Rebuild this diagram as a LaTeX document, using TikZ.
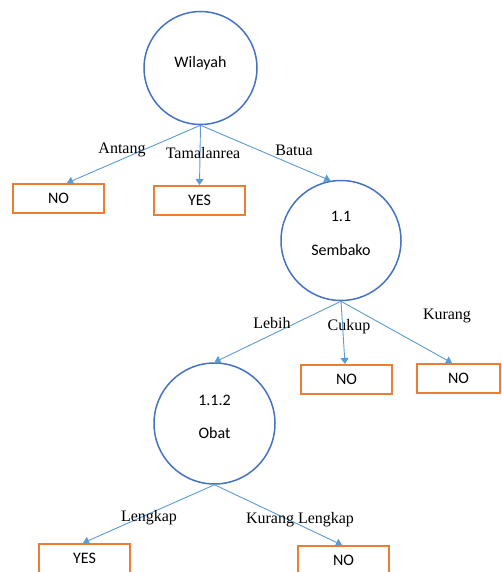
\documentclass[tikz,border=0pt]{standalone}
\usepackage{fontspec}
\setmainfont{Liberation Serif}
\newfontfamily\carlfont{Carlito}
\usetikzlibrary{arrows.meta}
\definecolor{circblue}{HTML}{4472C4}
\definecolor{arrblue}{HTML}{5B9BD5}
\definecolor{boxorange}{HTML}{ED7D31}
\tikzset{
  circ/.style={circle,draw=circblue,line width=1.5pt,inner sep=0pt},
  leaf/.style={draw=boxorange,line width=2pt,minimum height=29pt,inner sep=0pt,font=\carlfont\fontsize{16}{19}\selectfont},
  ctext/.style={font=\carlfont\fontsize{16}{19}\selectfont,inner sep=0pt},
  elabel/.style={font=\fontsize{16}{19}\selectfont,inner sep=0pt},
  arr/.style={draw=arrblue,line width=0.9pt,-{Triangle[width=8pt,length=6pt]}}
}
\begin{document}
\begin{tikzpicture}[x=1pt,y=-1pt]
\useasboundingbox (0,0) rectangle (501,572);
\clip (0,0) rectangle (501,572);
% nodes
\node[circ,minimum size=113pt] (w) at (200.5,68) {};
\node[ctext] (wt) at (200.5,63) {Wilayah};
\node[leaf,minimum width=91pt] (no1) at (58.5,198.5) {NO};
\node[leaf,minimum width=91pt] (yes1) at (199.5,200.5) {YES};
\node[circ,minimum size=120pt] (s) at (341,240.5) {};
\node[ctext] (st1) at (341,216) {1.1};
\node[ctext] (st2) at (341,250) {Sembako};
\node[leaf,minimum width=91pt] (no2) at (346.5,379.5) {NO};
\node[leaf,minimum width=83pt] (no3) at (458.5,378.5) {NO};
\node[circ,minimum size=121pt] (o) at (214.5,423.5) {};
\node[ctext] (ot1) at (214.5,400) {1.1.2};
\node[ctext] (ot2) at (214.5,433) {Obat};
\node[leaf,minimum width=91pt] (yes2) at (84.5,558.5) {YES};
\node[leaf,minimum width=91pt] (no4) at (343.5,560.5) {NO};
% edges
\draw[arr] (w.south) -- ([xshift=8.5pt]no1.north);
\draw[arr] (w.south) -- (yes1.north);
\draw[arr] (w.south) -- (s.100);
\draw[arr] (s.south) -- (o.north);
\draw[arr] (s.south) -- ([xshift=-1.5pt]no2.north);
\draw[arr] (s.south) -- ([xshift=-6.5pt]no3.north);
\draw[arr] (o.south) -- ([xshift=-1.5pt]yes2.north);
\draw[arr] (o.south) -- ([xshift=-1.5pt]no4.north);
% edge labels
\node[elabel] (l1) at (122,150) {Antang};
\node[elabel] (l2) at (203,153) {Tamalanrea};
\node[elabel] (l3) at (294,150) {Batua};
\node[elabel] (l4) at (272,323) {Lebih};
\node[elabel] (l5) at (349,327) {Cukup};
\node[elabel] (l6) at (447,316) {Kurang};
\node[elabel] (l7) at (149,518) {Lengkap};
\node[elabel] (l8) at (300,520) {Kurang Lengkap};
\end{tikzpicture}
\end{document}
